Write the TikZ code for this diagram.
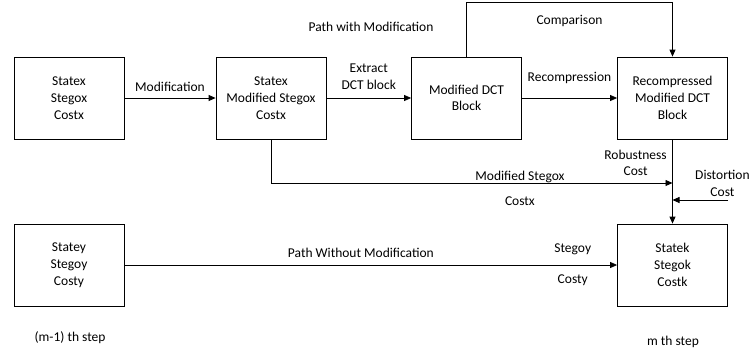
\documentclass[tikz,border=0pt]{standalone}
\usepackage{fontspec}
\setmainfont{Carlito}
\usetikzlibrary{arrows.meta}

\begin{document}
\begin{tikzpicture}[x=1pt, y=-1pt, font=\fontsize{13.5}{16.7}\selectfont,
    blk/.style={draw, line width=0.8pt, minimum width=110pt, minimum height=82pt, align=center, inner sep=2pt},
    every path/.style={line width=0.8pt},
    >={Triangle[length=7pt,width=6pt]}]

    \useasboundingbox (0,0) rectangle (749,354);

    \node[blk] (a) at (69, 98) {Statex\\Stegox\\Costx};
    \node[blk] (b) at (271, 98) {Statex\\Modified Stegox\\Costx};
    \node[blk] (c) at (466.5, 98) {Modified DCT\\Block};
    \node[blk] (d) at (672.5, 98) {Recompressed\\Modified DCT\\Block};
    \node[blk] (e) at (69, 265) {Statey\\Stegoy\\Costy};
    \node[blk] (f) at (672.5, 265) {Statek\\Stegok\\Costk};
    \coordinate (m) at (672.5, 183);
    \coordinate (dj) at (672.5, 200);
    \coordinate (dc) at (728, 200);
    \node (pwm) at (371, 27) {Path with Modification};
    \node (s1) at (70, 338) {(m-1) th step};
    \node (s2) at (673, 342) {m th step};

    \draw [->] (a) to node[above, yshift=3pt] {Modification} (b);
    \draw [->] (b) to node[above, align=center, yshift=5pt] {Extract\\DCT block} (c);
    \draw [->] (c) to node[above, yshift=11pt] {Recompression} (d);
    \draw [->] (c.north) -- ++(0,-54) -| node[pos=0.25, below, yshift=-9pt] {Comparison} (d.north);
    \draw [->] (b.south) |- node[pos=0.81, above, yshift=-4pt] {Modified Stegox} node[pos=0.81, below, yshift=-10pt] {Costx} (m);
    \draw [->] (d.south) to node[pos=0.28, left, align=center, xshift=-2pt] {Robustness\\Cost} (f.north);
    \draw [->] (dc) to node[pos=0.1, above, align=center] {Distortion\\Cost} (dj);
    \draw [->] (e) to node[pos=0.48, above, yshift=4pt] {Path Without Modification} node[pos=0.91, above, yshift=6pt] {Stegoy} node[pos=0.91, below, yshift=-6pt] {Costy} (f);

\end{tikzpicture}
\end{document}
